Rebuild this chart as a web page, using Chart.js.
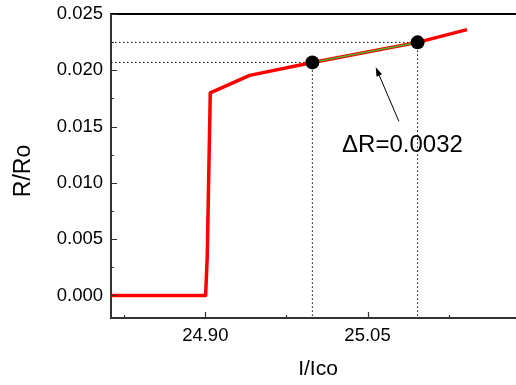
<!DOCTYPE html>
<html><head><meta charset="utf-8">
<script src="https://cdn.jsdelivr.net/npm/chart.js@4"></script>
<style>html,body{margin:0;padding:0;background:#fff}canvas{display:block}</style>
</head><body>
<canvas id="c" width="516" height="385"></canvas>
<script>
// ---- data ----
const curveX = [24.8128, 24.9003, 24.9018, 24.9046, 24.941, 24.999, 25.0963, 25.142];
const curveY = [0, 0, 0.0035, 0.0180, 0.01955, 0.0207, 0.02248, 0.02361];
const markerX = [24.999, 25.0963];
const markerY = [0.0207, 0.02248];
const xTickLabels = [24.90, 25.05];
const xMinorTicks = [24.825, 24.975, 25.125];
const yTicks = [0, 0.005, 0.010, 0.015, 0.020, 0.025];
const yMinorTicks = [0.0025, 0.0075, 0.0125, 0.0175, 0.0225];
const annotationText = 'ΔR=0.0032';
const annotationPos = [25.0823, 0.01331];
const arrowFrom = [25.079, 0.01547];
const arrowTo = [25.0576, 0.02027];
const xRange = [24.8128, 25.1873];
const yRange = [-0.002, 0.025];
const xTitle = 'I/Ico';
const yTitle = 'R/Ro';

const FONT = '"Liberation Sans", Arial, sans-serif';
const pts = (xs, ys) => xs.map((x, i) => ({x, y: ys[i]}));

const dotted = (data) => ({
  data, borderColor: '#000', borderWidth: 1, borderDash: [1.5, 2.5],
  pointRadius: 0, fill: false, tension: 0
});

const extras = {
  id: 'extras',
  afterDraw(chart) {
    const {ctx, chartArea: a, scales: {x, y}} = chart;
    ctx.save();
    // top border
    ctx.strokeStyle = '#000';
    ctx.lineWidth = 2;
    ctx.beginPath();
    ctx.moveTo(a.left, a.top); ctx.lineTo(a.right, a.top);
    ctx.stroke();
    // inward ticks
    ctx.strokeStyle = '#333';
    ctx.lineWidth = 1.2;
    ctx.beginPath();
    xTickLabels.forEach(v => { const p = Math.round(x.getPixelForValue(v)) + 0.5; ctx.moveTo(p, a.bottom); ctx.lineTo(p, a.bottom - 6); });
    xMinorTicks.forEach(v => { const p = Math.round(x.getPixelForValue(v)) + 0.5; ctx.moveTo(p, a.bottom); ctx.lineTo(p, a.bottom - 3); });
    yTicks.forEach(v => { const p = Math.round(y.getPixelForValue(v)) + 0.5; ctx.moveTo(a.left, p); ctx.lineTo(a.left + 6, p); });
    yMinorTicks.forEach(v => { const p = Math.round(y.getPixelForValue(v)) + 0.5; ctx.moveTo(a.left, p); ctx.lineTo(a.left + 3, p); });
    ctx.stroke();
    // arrow
    const x0 = x.getPixelForValue(arrowFrom[0]), y0 = y.getPixelForValue(arrowFrom[1]);
    const x1 = x.getPixelForValue(arrowTo[0]), y1 = y.getPixelForValue(arrowTo[1]);
    const ang = Math.atan2(y1 - y0, x1 - x0);
    ctx.strokeStyle = '#000'; ctx.fillStyle = '#000'; ctx.lineWidth = 1;
    ctx.beginPath(); ctx.moveTo(x0, y0);
    ctx.lineTo(x1 - 6 * Math.cos(ang), y1 - 6 * Math.sin(ang)); ctx.stroke();
    ctx.beginPath();
    ctx.moveTo(x1, y1);
    ctx.lineTo(x1 - 9 * Math.cos(ang) + 3 * Math.sin(ang), y1 - 9 * Math.sin(ang) - 3 * Math.cos(ang));
    ctx.lineTo(x1 - 9 * Math.cos(ang) - 3 * Math.sin(ang), y1 - 9 * Math.sin(ang) + 3 * Math.cos(ang));
    ctx.closePath(); ctx.fill();
    // annotation text
    ctx.font = '24px ' + FONT;
    ctx.textAlign = 'center'; ctx.textBaseline = 'middle';
    ctx.fillText(annotationText, x.getPixelForValue(annotationPos[0]), y.getPixelForValue(annotationPos[1]));
    // x title
    ctx.font = '21px ' + FONT;
    ctx.fillText(xTitle, 318, 369);
    // y title
    ctx.translate(24, 171);
    ctx.rotate(-Math.PI / 2);
    ctx.font = '23px ' + FONT;
    ctx.fillText(yTitle, 0, 0);
    ctx.restore();
  }
};

new Chart(document.getElementById('c'), {
  type: 'line',
  data: {
    datasets: [
      { data: pts(markerX, markerY), showLine: false, pointRadius: 7, pointBackgroundColor: '#000', pointBorderColor: '#000', pointBorderWidth: 0 },
      { data: pts(markerX, markerY), borderColor: '#2ecc2e', borderWidth: 1.3, pointRadius: 0, tension: 0 },
      { data: pts(curveX, curveY), borderColor: '#ff0000', borderWidth: 3.5, pointRadius: 0, tension: 0, borderJoinStyle: 'round' },
      dotted([{x: xRange[0], y: markerY[0]}, {x: markerX[0], y: markerY[0]}]),
      dotted([{x: xRange[0], y: markerY[1]}, {x: markerX[1], y: markerY[1]}]),
      dotted([{x: markerX[0], y: markerY[0]}, {x: markerX[0], y: yRange[0]}]),
      dotted([{x: markerX[1], y: markerY[1]}, {x: markerX[1], y: yRange[0]}])
    ]
  },
  options: {
    responsive: false,
    animation: false,
    devicePixelRatio: 1,
    layout: { autoPadding: false, padding: { top: 14, right: 0, left: 0, bottom: 0 } },
    plugins: { legend: { display: false }, tooltip: { enabled: false } },
    scales: {
      x: {
        type: 'linear', min: xRange[0], max: xRange[1],
        afterBuildTicks: s => { s.ticks = xTickLabels.map(v => ({value: v})); },
        afterFit: s => { s.height = 67; s.paddingLeft = 0; s.paddingRight = 0; },
        ticks: { callback: v => Number(v).toFixed(2), font: { family: FONT, size: 18.5 }, color: '#000', padding: 7, maxRotation: 0, autoSkip: false },
        grid: { display: false, drawTicks: false, tickLength: 0 },
        border: { display: true, color: '#333', width: 2 },
        title: { display: false }
      },
      y: {
        type: 'linear', min: yRange[0], max: yRange[1],
        afterBuildTicks: s => { s.ticks = yTicks.map(v => ({value: v})); },
        afterFit: s => { s.width = 111; s.paddingTop = 0; s.paddingBottom = 0; },
        ticks: { callback: v => Number(v).toFixed(3), font: { family: FONT, size: 18.5 }, color: '#000', padding: 8, autoSkip: false },
        grid: { display: false, drawTicks: false, tickLength: 0 },
        border: { display: true, color: '#333', width: 2 },
        title: { display: false }
      }
    }
  },
  plugins: [extras]
});
</script>
</body></html>
